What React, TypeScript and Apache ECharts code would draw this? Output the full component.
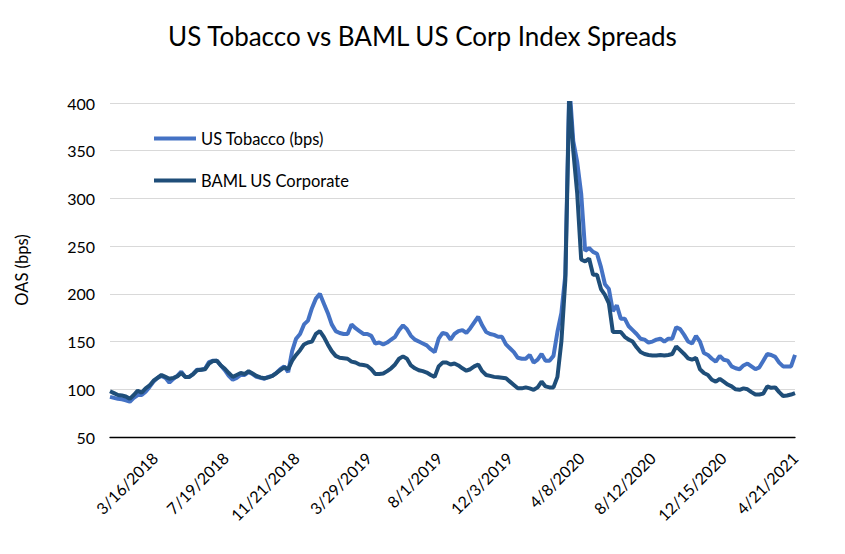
import React, { useEffect, useRef } from "react";
import * as echarts from "echarts";

// Weekly observation dates: start date and count (every 7 days)
const startDate = [2017, 11, 27]; // 12/27/2017 (month is 0-based)
const weekCount = 174;

const tickLabelDates = [
  "2018-03-16", "2018-07-19", "2018-11-21", "2019-03-29", "2019-08-01",
  "2019-12-03", "2020-04-08", "2020-08-12", "2020-12-15", "2021-04-21",
];

const tobaccoBps = [
  92, 91, 90, 89.5, 88.5, 87, 91, 94, 94, 97.5,
  102.5, 108, 112, 114, 112, 107, 111, 114, 118.5, 113,
  113, 116, 120.5, 120.5, 121.5, 128.5, 130, 130, 125, 120,
  114, 110, 112, 115, 115, 118, 116, 113, 112, 111,
  113, 114, 117, 121, 124, 118, 140, 153, 158, 168,
  172, 185, 195, 200, 190, 180, 168, 161, 159, 158,
  158, 168, 164, 161, 158, 158, 156, 148, 149, 147,
  149, 152, 155, 162, 167, 163, 156, 152, 150, 148,
  146, 142, 139, 153, 159, 158, 152, 158, 161, 162,
  159, 164, 170, 176, 167, 160, 158, 157, 155, 155,
  147, 143, 139, 133, 132, 132, 136, 128, 131, 137,
  130, 130, 135, 160, 180, 220, 420, 360, 338, 305,
  245, 248, 244, 242, 228, 210, 205, 182, 188, 174,
  174, 166, 162, 158, 153, 152, 149, 150, 152, 153,
  150, 153, 153, 165, 163, 157, 150, 148, 156, 150,
  138, 136, 132, 129, 135, 131, 130, 124, 122, 121,
  125, 127, 124, 121, 123, 130, 137, 136, 134, 128,
  124, 124, 124, 136,
];

const bamlBps = [
  98, 96, 94, 93.5, 92.5, 90, 94, 98.5, 96.5, 101,
  104, 109, 112, 115, 113, 111, 112, 113.5, 117, 113,
  113, 116, 120, 120.5, 121, 127, 129.6, 130, 125, 121.5,
  117, 113, 115, 117, 116, 119, 116.5, 114, 112.5, 111.5,
  112.5, 114, 117, 120, 123, 121, 130, 136, 141, 147,
  149, 150, 158, 161, 155, 147, 140, 135, 133, 132.5,
  132, 129, 128, 126, 125.5, 124.5, 121, 116, 116, 116.5,
  119, 122, 126, 132, 134.5, 132, 125, 122, 120, 119,
  117.5, 115, 113, 124, 128, 128, 126, 127, 125, 122,
  119.5, 121, 124, 126, 119, 115, 114, 113, 112.5, 112,
  111.5, 108, 104.5, 101, 101, 102, 101, 99.5, 102, 108,
  103, 102, 102, 113, 150, 215, 410, 350, 305, 236,
  234, 237, 220, 220, 205, 199, 190, 160, 160, 160,
  155, 152, 150, 144, 139, 137, 136, 135.5, 135.5, 136,
  135.5, 136, 137, 145, 141, 137, 132.5, 131, 133, 121,
  117, 115, 110, 108, 111, 108, 105, 103, 100, 99.5,
  101, 100, 97, 94.5, 94.5, 95.5, 103, 101.5, 102, 97,
  93, 93.5, 94.5, 96,
];

const seriesNames = ["US Tobacco (bps)", "BAML US Corporate"];
const titleText = "US Tobacco vs BAML US Corp Index Spreads";
const yAxisName = "OAS (bps)";

function buildDates(): number[] {
  const out: number[] = [];
  for (let i = 0; i < weekCount; i++) {
    out.push(new Date(startDate[0], startDate[1], startDate[2] + i * 7).getTime());
  }
  return out;
}

function parseDate(s: string): number {
  const [y, m, d] = s.split("-").map(Number);
  return new Date(y, m - 1, d).getTime();
}

export default function App() {
  const ref = useRef<HTMLDivElement>(null);

  useEffect(() => {
    if (!ref.current) return;
    const chart = echarts.init(ref.current, undefined, { renderer: "svg" });
    const dates = buildDates();
    const font = "Lato, 'Noto Sans', sans-serif";
    chart.setOption({
      animation: false,
      backgroundColor: "#ffffff",
      textStyle: { fontFamily: font },
      title: {
        text: titleText,
        left: "center",
        top: 18,
        textStyle: { fontFamily: font, fontSize: 26, fontWeight: "normal", color: "#000" },
      },
      legend: {
        orient: "vertical",
        left: 149,
        top: 125,
        icon: "rect",
        itemWidth: 42,
        itemHeight: 4,
        itemGap: 25,
        textStyle: { fontFamily: font, fontSize: 16.5, color: "#000" },
        data: seriesNames,
      },
      grid: { left: 110, right: 50, top: 103, bottom: 117, containLabel: false },
      xAxis: {
        type: "value",
        min: dates[0],
        max: dates[dates.length - 1],
        axisLine: { show: true, lineStyle: { color: "#000", width: 1.3 } },
        axisTick: { show: false },
        splitLine: { show: false },
        axisLabel: {
          customValues: tickLabelDates.map(parseDate),
          rotate: 45,
          margin: 18,
          fontFamily: font,
          fontSize: 16,
          color: "#000",
          hideOverlap: false,
          formatter: (v: number) => {
            const d = new Date(v);
            return `${d.getMonth() + 1}/${d.getDate()}/${d.getFullYear()}`;
          },
        },
      },
      yAxis: {
        type: "value",
        min: 50,
        max: 400,
        interval: 50,
        name: yAxisName,
        nameLocation: "middle",
        nameGap: 80,
        nameRotate: 90,
        nameTextStyle: { fontFamily: font, fontSize: 16.5, color: "#000" },
        axisLine: { show: false },
        axisTick: { show: false },
        splitLine: { lineStyle: { color: "#d9d9d9", width: 1 } },
        axisLabel: { fontFamily: font, fontSize: 16, color: "#000", margin: 15 },
      },
      series: [
        {
          name: seriesNames[0],
          type: "line",
          symbol: "none",
          clip: true,
          data: dates.map((d, i) => [d, tobaccoBps[i]]),
          lineStyle: { color: "#4472C4", width: 4 },
          itemStyle: { color: "#4472C4" },
        },
        {
          name: seriesNames[1],
          type: "line",
          symbol: "none",
          clip: true,
          data: dates.map((d, i) => [d, bamlBps[i]]),
          lineStyle: { color: "#1F4E79", width: 4 },
          itemStyle: { color: "#1F4E79" },
        },
      ],
    });
    return () => chart.dispose();
  }, []);

  return <div ref={ref} style={{ width: 845, height: 554, margin: -8 }} />;
}
